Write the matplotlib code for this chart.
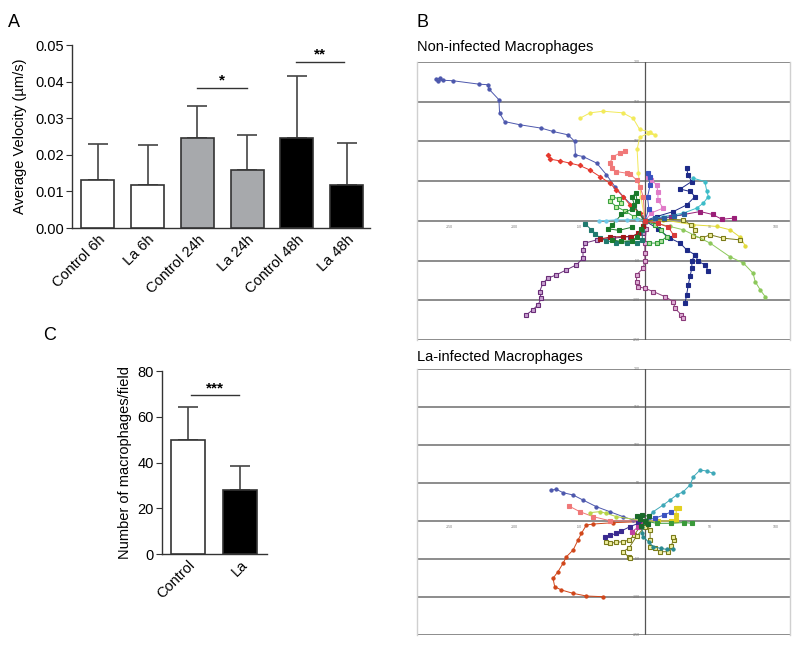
import matplotlib
matplotlib.use('Agg')
import matplotlib.pyplot as plt
import numpy as np

plt.rcParams['font.family'] = ['Liberation Sans', 'DejaVu Sans']

# ---- panel A: average velocity ----
vel_labels = ['Control 6h', 'La 6h', 'Control 24h', 'La 24h', 'Control 48h', 'La 48h']
vel_mean = [0.0130, 0.0117, 0.0247, 0.0158, 0.0245, 0.0118]
vel_sd = [0.0100, 0.0111, 0.0086, 0.0095, 0.0169, 0.0115]
vel_colors = ['white', 'white', '#a7a9ac', '#a7a9ac', 'black', 'black']

# ---- panel C: macrophages per field ----
cnt_labels = ['Control', 'La']
cnt_mean = [49.8, 28.0]
cnt_sd = [14.4, 10.5]
cnt_colors = ['white', 'black']

# ---- panel B: tracks (x, y in µm), non-infected ----
ni_slate = [(0, 0), (-1.3, 5.4), (-9, 18), (-16.7, 30.6), (-23, 43), (-29.5, 58), (-37, 72.7),
            (-47.5, 81), (-53.3, 83), (-53.8, 100), (-59, 108.3), (-70.5, 112.5), (-79.5, 116.7),
            (-96, 121), (-107.7, 125), (-111.5, 135.7), (-112, 152.5), (-119.7, 166), (-120.5, 171.4),
            (-126.9, 172), (-147.4, 176.4), (-155, 177), (-159, 175.5), (-160, 178), (-157, 180)]
ni_yellow = [(0, 0), (-3, 30), (-5, 60), (-6, 90), (-4, 105), (2, 110), (8, 108), (4, 112),
             (-4, 115), (-9, 129), (-17, 136), (-32, 138), (-42, 136), (-50, 129)]
ni_red = [(0, 0), (-3.8, 9.7), (-11.5, 20), (-16.7, 30.6), (-21.8, 39), (-27, 47.5), (-34.6, 55.8),
          (-42.3, 64), (-50, 69.7), (-57.7, 72.7), (-65.4, 75.6), (-73, 77.7), (-74.4, 83)]
ni_salmon = [(0, 0), (-1.3, 30.6), (-3.8, 43), (-6.4, 51.6), (-11.5, 59), (-14, 60), (-21.8, 62),
             (-25.6, 66.4), (-27, 72.7), (-24.4, 81), (-19.2, 85.2), (-15.4, 87.3)]
ni_pink = [(0, 0), (5, 10), (14, 16), (10, 26), (10, 36), (9, 45), (5, 52), (2, 55)]
ni_navy = [(0, 0), (9, 5.4), (21.8, 11.7), (32, 20), (38.5, 30.6), (34.6, 37), (27, 40),
           (35.9, 49.5), (33, 58), (32, 66.4)]
ni_cyan = [(0, 0), (14, 5.4), (29.5, 9.7), (39.7, 16), (44.8, 22.3), (48.7, 30.6), (47.5, 37),
           (46, 49.5), (37, 53.7)]
ni_plum = [(0, 0), (20, 5), (42.3, 11.7), (52, 8), (59, 2), (68, 3.4)]
ni_lemon = [(0, 0), (14, 1.3), (37, -5), (55, -7), (65.4, -11.3), (73, -20.5), (77, -31.5)]
ni_olive = [(0, 0), (15, 2), (29.5, 1.3), (35, -5), (38.5, -11.3), (37, -19), (43.6, -21.8),
            (50, -17.6), (60, -21.8), (73, -24)]
ni_lime = [(0, 0), (19, -7), (29.5, -11.3), (50, -28), (65, -45), (75.6, -53.3), (83, -66),
           (84.6, -76.5), (88.5, -87), (92.3, -95.5)]
ni_navy2 = [(0, 0), (10, -10), (19.2, -21.8), (27, -28), (32, -36.5), (38.5, -42.8), (36, -50),
            (36, -59.6), (34.6, -70), (33.3, -80.6), (32, -93), (30.8, -103.7)]
ni_navy3 = [(38.5, -42.8), (41, -51), (46, -55.4), (48.7, -63)]
ni_violet = [(0, 0), (-1.3, -15.5), (-11.5, -19.8), (-24.4, -21.8), (-37, -24), (-46, -28),
             (-47.5, -36.5), (-47.5, -47), (-52.5, -55.4), (-60.2, -61.7), (-68, -68),
             (-74.4, -72.2), (-78.2, -78.5), (-80.8, -89), (-79.5, -97.4), (-82, -105.8),
             (-86, -112), (-91, -118.4)]
ni_mauve = [(0, 0), (1, -10), (0, -28), (0, -40), (0, -51), (-1.3, -59.6), (-6.4, -68),
            (-6.4, -76.5), (-5, -83), (0, -85), (6.4, -89), (15.4, -95.5), (21.8, -101.6),
            (23, -110), (28, -118.4), (29.5, -121.8)]
ni_teal = [(0, 0), (-2, -12), (-2, -24), (-6.4, -28), (-14, -28), (-21.8, -27.3), (-30, -25),
           (-34.6, -21.8), (-38, -16), (-41, -11.3), (-46, -3.8)]
ni_darkred = [(0, 0), (-1.3, -7), (-5, -15.5), (-10.3, -19.8), (-16.7, -19.8), (-27, -20.5),
              (-34.6, -23)]
ni_green1 = [(0, 0), (-8, 5), (-15, 12), (-22, 18), (-27, 25), (-25, 30), (-20, 28), (-18, 22)]
ni_green2 = [(0, 0), (-5, 10), (-8, 20), (-10, 30), (-7, 35), (-6, 25), (-10, 15), (-18, 8),
             (-25, -5), (-28, -10), (-20, -12), (-10, -8)]
ni_green3 = [(0, 0), (8, -5), (12, -12), (16.7, -20), (12, -26), (9, -28), (3, -28)]
ni_green4 = [(0, 0), (-3, -10), (-6, -20), (-10, -25), (-18, -26), (-25, -24)]
ni_sky = [(0, 0), (-6.4, 2), (-14, 1.3), (-21.8, 1.3), (-30, 0.4), (-35, 0.4)]
ni_blue = [(0, 0), (3, 15), (2, 30), (4, 45), (2, 60), (4, 55)]
ni_steel = [(0, 0), (8, 3), (15, 4), (22, 6), (30, 8)]
ni_red2 = [(0, 0), (10, -3), (18, -8), (22, -18)]

# ---- panel B: tracks, La-infected ----
la_orange = [(0, 0), (-3.8, -0.9), (-24.4, -2.2), (-39.7, -4), (-44.9, -5.3), (-48.7, -16.2),
             (-51.3, -25), (-55.1, -38.2), (-60.2, -47), (-62.8, -55.7), (-66.7, -66.7),
             (-70.5, -75.4), (-69.2, -86.5), (-64, -90.8), (-55.1, -95.2), (-44.9, -98.7),
             (-32, -99.6)]
la_slate = [(0, 0), (-9, 1.3), (-16.7, 5.7), (-27, 12.3), (-37.2, 18.8), (-47.5, 27.6),
            (-55.1, 34.2), (-62.8, 37.3), (-68, 41.7), (-71.8, 40.8)]
la_salmon = [(0, 0), (-27, 0.4), (-39.7, 5.7), (-50, 12.3), (-58.2, 19.7)]
la_lime = [(0, 0), (-21.8, 5.7), (-29.5, 10), (-34.6, 12.3), (-42.3, 11)]
la_teal = [(0, 0), (6.4, 12.3), (14, 21), (19.2, 27.6), (24.4, 34.2), (29.5, 38.6), (34.6, 47.4),
           (37.2, 58.3), (42.3, 67), (47.4, 65.8), (52.5, 62.7)]
la_yellow = [(0, 0), (10, 0), (20, 0), (24, 1), (24, 8), (24, 17), (26, 17)]
la_green = [(0, 0), (9, -3), (20, -3), (30, -2), (36, -3)]
la_olive1 = [(0, 0), (-4, -8), (-8, -18), (-12, -25), (-16.7, -27.2), (-22, -28), (-27, -29.4),
             (-30, -28)]
la_olive2 = [(0, 0), (4, -12), (4, -25), (3.8, -33.8), (8, -36), (11.5, -40.4), (18, -40.4),
             (20, -33), (22, -25), (21.8, -20.6)]
la_olive3 = [(0, -8), (-6.4, -20), (-12, -35), (-16.7, -40.4), (-12, -48), (-11.5, -49)]
la_cadet = [(0, 0), (-2, -8), (-2, -16), (-1.3, -20.6), (3, -28), (6.4, -33.8), (12, -36),
            (16.7, -37.3), (21.8, -37.3)]
la_indigo = [(0, 0), (-5, -3), (-11.5, -7.5), (-18, -13), (-21.8, -16.2), (-27, -19), (-30.8, -20.6)]
la_magenta = [(0, 0), (-5, -8), (-10, -14)]
la_blue = [(0, 0), (8, 4), (15, 8), (20, 12)]
la_dkgreen = [(0, 0), (-4, 2), (-6, 6), (-2, 8), (3, 6), (2, -4), (-3, -6)]

yticks_b = [200, 150, 100, 50, -50, -100, -150]
xticks_b = [-150, -100, -50, 50, 100]

fig = plt.figure(figsize=(8, 6.45), dpi=100)


def style_bar_axes(ax):
    for s in ['top', 'right']:
        ax.spines[s].set_visible(False)
    for s in ['left', 'bottom']:
        ax.spines[s].set_color('#333333')
        ax.spines[s].set_linewidth(1.0)
    ax.tick_params(axis='y', direction='out', length=4, color='#333333', labelsize=10.5, pad=2)
    ax.tick_params(axis='x', length=0, labelsize=10.5, pad=3)


def sig_bar(ax, x0, x1, y, txt):
    ax.plot([x0, x1], [y, y], color='#333333', lw=1.0)
    ax.text((x0 + x1) / 2, y, txt, ha='center', va='bottom', fontsize=11, fontweight='bold')


# panel A
axA = fig.add_axes([0.09, 0.6465, 0.3725, 0.2837])
xa = np.arange(len(vel_labels))
axA.bar(xa, vel_mean, width=0.66, color=vel_colors, edgecolor='#333333', linewidth=1.2, zorder=3)
axA.errorbar(xa, vel_mean, yerr=[np.zeros(len(vel_sd)), vel_sd], fmt='none', ecolor='#444444',
             elinewidth=1.2, capsize=7, capthick=1.2, zorder=2)
axA.set_xlim(-0.52, 5.47)
axA.set_ylim(0, 0.05)
axA.set_yticks([0, 0.01, 0.02, 0.03, 0.04, 0.05])
axA.set_yticklabels(['0.00', '0.01', '0.02', '0.03', '0.04', '0.05'])
axA.set_xticks(xa)
axA.set_xticklabels(vel_labels, rotation=45, ha='right', rotation_mode='anchor')
axA.set_ylabel('Average Velocity (µm/s)', fontsize=10.5, labelpad=6)
style_bar_axes(axA)
sig_bar(axA, 2.0, 3.0, 0.0383, '*')
sig_bar(axA, 3.98, 4.95, 0.0454, '**')

# panel C
axC = fig.add_axes([0.2025, 0.141, 0.131, 0.2837])
xc = np.arange(len(cnt_labels))
axC.bar(xc, cnt_mean, width=0.65, color=cnt_colors, edgecolor='#333333', linewidth=1.2, zorder=3)
axC.errorbar(xc, cnt_mean, yerr=[np.zeros(len(cnt_sd)), cnt_sd], fmt='none', ecolor='#444444',
             elinewidth=1.2, capsize=7, capthick=1.2, zorder=2)
axC.set_xlim(-0.495, 1.505)
axC.set_ylim(0, 80)
axC.set_yticks([0, 20, 40, 60, 80])
axC.set_xticks(xc)
axC.set_xticklabels(cnt_labels, rotation=45, ha='right', rotation_mode='anchor')
axC.set_ylabel('Number of macrophages/field', fontsize=10.5, labelpad=4)
style_bar_axes(axC)
sig_bar(axC, 0.05, 0.98, 69.5, '***')

fig.text(0.01, 0.965, 'A', fontsize=13, va='center')
fig.text(0.054, 0.48, 'C', fontsize=13, va='center')
fig.text(0.521, 0.965, 'B', fontsize=13, va='center')
fig.text(0.521, 0.927, 'Non-infected Macrophages', fontsize=10.5, va='center')
fig.text(0.521, 0.447, 'La-infected Macrophages', fontsize=10.5, va='center')


def track_axes(rect, tracks):
    ax = fig.add_axes(rect)
    ax.set_xlim(-175, 111)
    ax.set_ylim(-150, 200)
    for yv in [-150, -100, -50, 0, 50, 100, 150, 200]:
        ax.axhline(yv, color='#6e6e6e', lw=1.1, zorder=1)
    ax.axvline(0, color='#555555', lw=0.9, zorder=1)
    for s in ['top', 'bottom']:
        ax.spines[s].set_visible(False)
    for s in ['left', 'right']:
        ax.spines[s].set_color('#d0d0d0')
        ax.spines[s].set_linewidth(1.0)
    ax.set_xticks([])
    ax.set_yticks([])
    for yv in yticks_b:
        ax.text(-4, yv, str(yv), fontsize=2.5, color='#777777', ha='right', va='center')
    for xv in xticks_b:
        ax.text(xv, -5, str(xv), fontsize=2.5, color='#777777', ha='center', va='top')
    for pts, col, mk, mfc in tracks:
        arr = np.array(pts)
        ax.plot(arr[:, 0], arr[:, 1], color=col, lw=0.7, marker=mk, ms=2.3,
                mfc=mfc if mfc else col, mec=col, mew=0.8, zorder=3)
    return ax


ni_tracks = [
    (ni_slate, '#4d58ad', 'o', None),
    (ni_yellow, '#f2ea5a', 'o', None),
    (ni_red, '#e5372c', 'D', None),
    (ni_salmon, '#f07878', 's', None),
    (ni_pink, '#e07ac8', 's', None),
    (ni_navy, '#1d2a88', 's', None),
    (ni_cyan, '#3cbcc8', 'o', None),
    (ni_plum, '#9a1f78', 's', None),
    (ni_lemon, '#e2da3a', 'o', None),
    (ni_olive, '#7a7a1a', 's', '#f0f0a0'),
    (ni_lime, '#8cc85a', 'o', None),
    (ni_navy2, '#1d2a88', 's', None),
    (ni_navy3, '#1d2a88', 's', None),
    (ni_violet, '#6a2d78', 's', '#c8a0d0'),
    (ni_mauve, '#8a3a7a', 's', '#e0b0d8'),
    (ni_teal, '#1f7a6e', 's', None),
    (ni_darkred, '#a21818', 's', None),
    (ni_green1, '#3aa040', 's', '#c0f0a0'),
    (ni_green2, '#1a7a2a', 's', None),
    (ni_green3, '#2e9a3a', 's', '#b0e0a0'),
    (ni_green4, '#1a7a2a', 's', None),
    (ni_sky, '#6ec8e8', 'o', None),
    (ni_blue, '#3a52c0', 's', None),
    (ni_steel, '#2a60a0', 's', None),
    (ni_red2, '#d83a3a', 's', None),
]
la_tracks = [
    (la_orange, '#d0461a', 'o', None),
    (la_slate, '#4d58ad', 'o', None),
    (la_salmon, '#f07878', 's', None),
    (la_lime, '#b8d448', 'o', None),
    (la_teal, '#3ea8b8', 'o', None),
    (la_yellow, '#e2d020', 's', None),
    (la_green, '#3a9a3a', 's', None),
    (la_olive1, '#7a7a1a', 's', '#f0f0a0'),
    (la_olive2, '#7a7a1a', 's', '#f0f0a0'),
    (la_olive3, '#7a7a1a', 's', '#f0f0a0'),
    (la_cadet, '#2a8a90', 'o', None),
    (la_indigo, '#3a2a90', 's', None),
    (la_magenta, '#c040a0', 's', None),
    (la_blue, '#3a52c0', 's', None),
    (la_dkgreen, '#1a6a2a', 's', None),
]

track_axes([0.521, 0.4729, 0.466, 0.431], ni_tracks)
track_axes([0.521, 0.0155, 0.466, 0.4124], la_tracks)

fig.savefig('out.png', dpi=100)
